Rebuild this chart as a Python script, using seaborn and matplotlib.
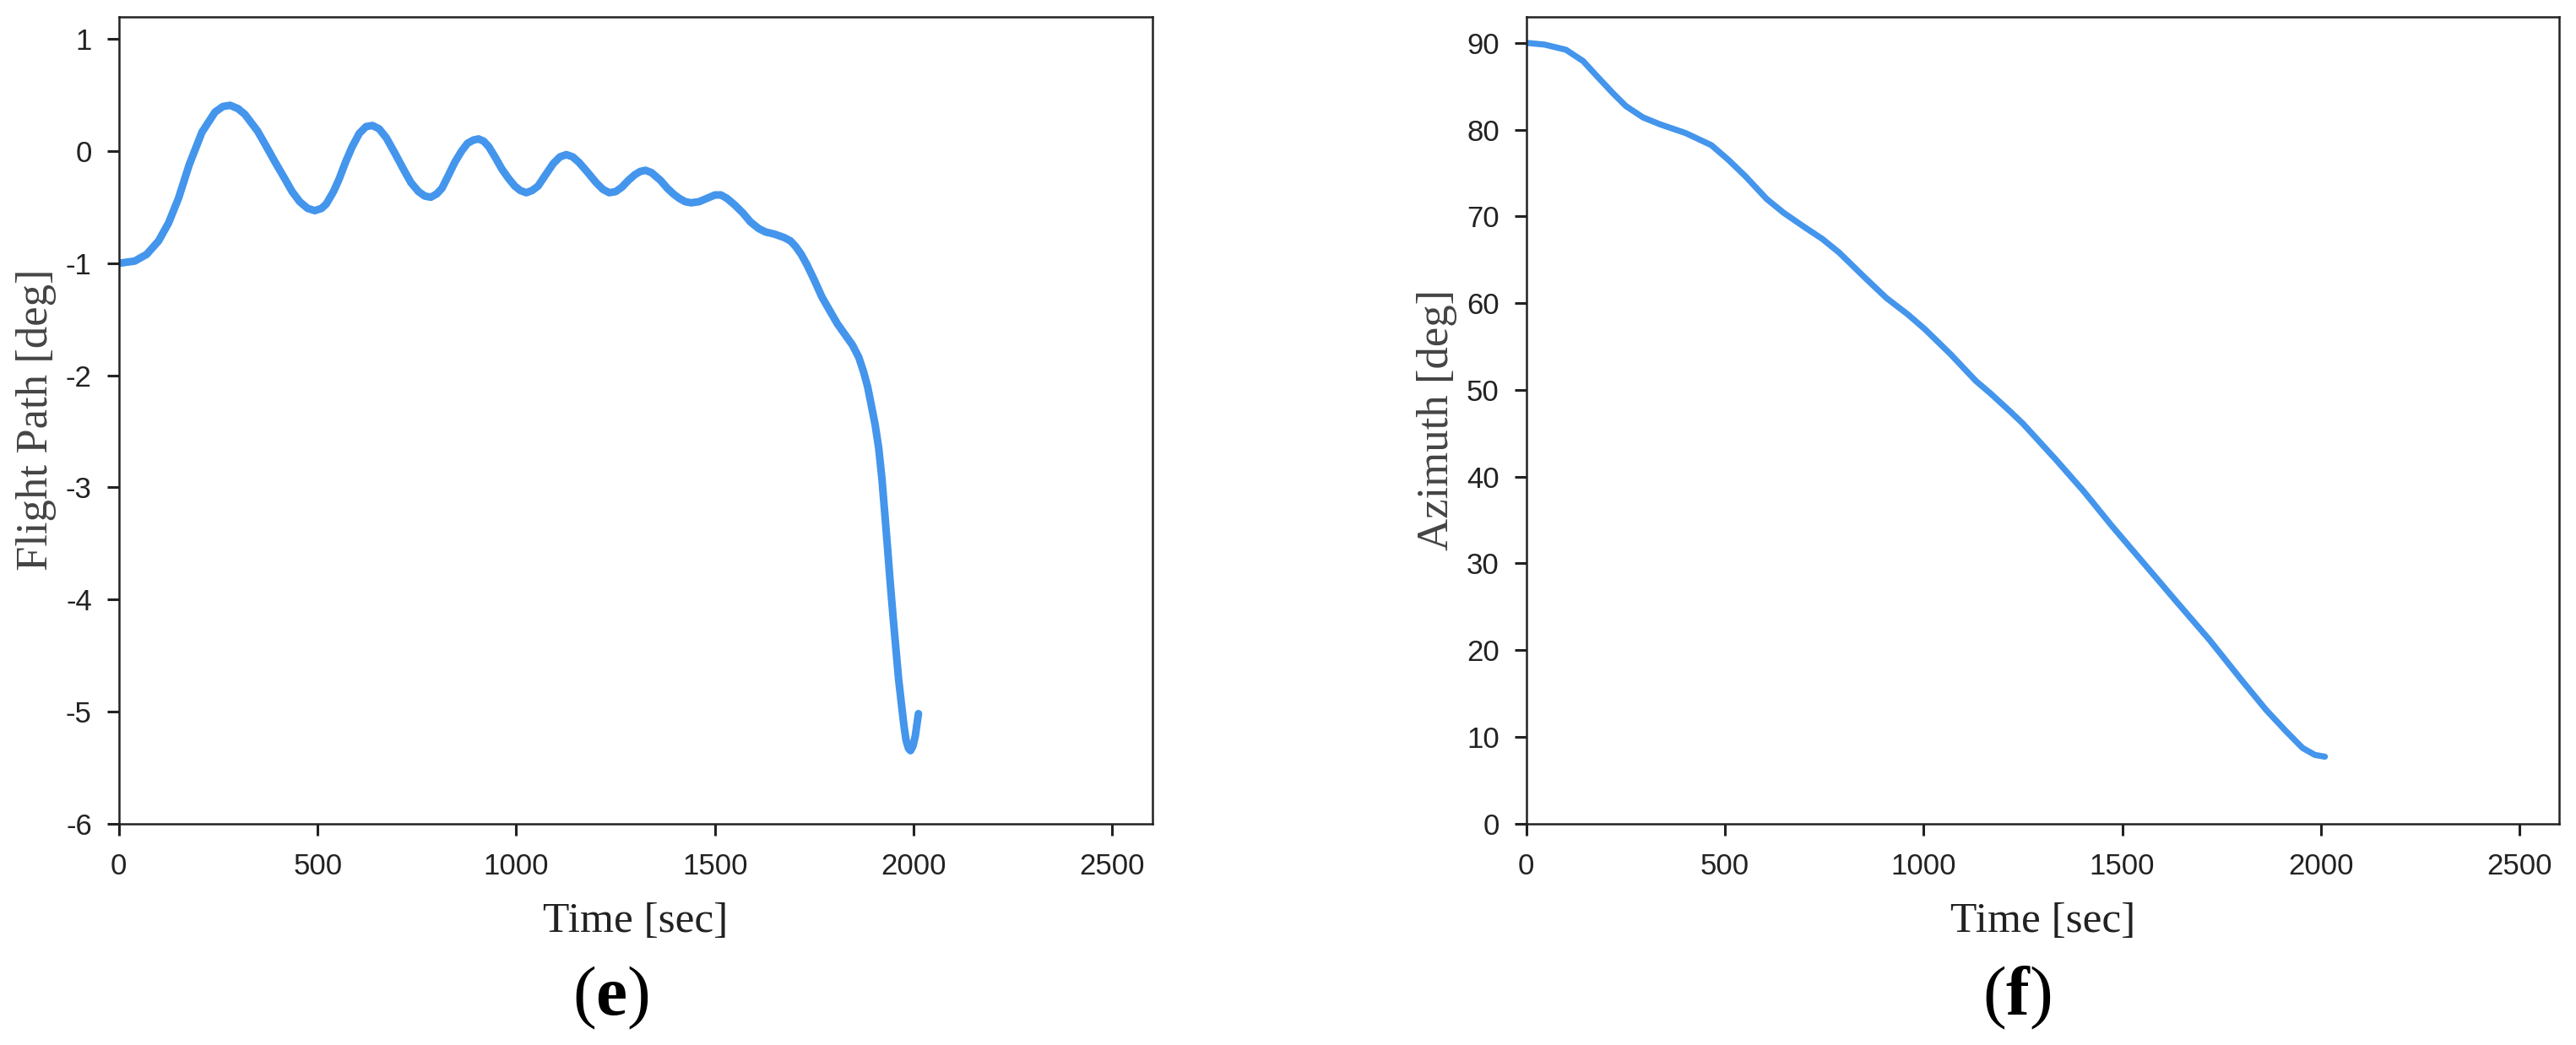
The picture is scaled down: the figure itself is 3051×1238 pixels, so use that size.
import matplotlib
matplotlib.use("Agg")
import matplotlib.pyplot as plt
import seaborn as sns
import pandas as pd

# ---- data ----
time_e = [0, 40, 70, 100, 125, 150, 177, 209, 242, 262, 280, 300, 317, 349, 370, 392, 415, 436,
          455, 475, 493, 510, 522, 540, 554, 570, 587, 605, 622, 638, 655, 673, 695, 716, 735,
          754, 770, 785, 800, 813, 830, 845, 862, 877, 892, 905, 918, 931, 948, 964, 980, 996,
          1010, 1025, 1040, 1055, 1070, 1093, 1110, 1126, 1142, 1158, 1180, 1201, 1218, 1234,
          1250, 1266, 1282, 1298, 1312, 1325, 1340, 1363, 1380, 1395, 1410, 1425, 1440, 1460,
          1480, 1500, 1515, 1530, 1550, 1570, 1589, 1610, 1627, 1650, 1674, 1690, 1703, 1717,
          1731, 1750, 1769, 1790, 1808, 1828, 1846, 1862, 1874, 1884, 1893, 1903, 1912, 1920,
          1927, 1934, 1941, 1948, 1955, 1962, 1970, 1976, 1981, 1987, 1992, 1998, 2004, 2008, 2012]
flight_path = [-1.00, -0.98, -0.92, -0.80, -0.64, -0.42, -0.12, 0.17, 0.35, 0.40, 0.41, 0.38, 0.33,
               0.18, 0.05, -0.09, -0.23, -0.36, -0.45, -0.51, -0.53, -0.51, -0.47, -0.36, -0.25,
               -0.10, 0.04, 0.16, 0.22, 0.23, 0.20, 0.12, -0.02, -0.16, -0.28, -0.36, -0.40, -0.41,
               -0.38, -0.33, -0.21, -0.10, 0.00, 0.07, 0.10, 0.11, 0.09, 0.04, -0.06, -0.16, -0.24,
               -0.31, -0.35, -0.37, -0.35, -0.31, -0.23, -0.11, -0.05, -0.03, -0.05, -0.10, -0.19,
               -0.28, -0.34, -0.37, -0.36, -0.32, -0.26, -0.21, -0.18, -0.17, -0.19, -0.26, -0.33,
               -0.38, -0.42, -0.45, -0.46, -0.45, -0.42, -0.39, -0.39, -0.42, -0.48, -0.55, -0.63,
               -0.69, -0.72, -0.74, -0.77, -0.80, -0.85, -0.92, -1.01, -1.15, -1.30, -1.43, -1.54,
               -1.64, -1.73, -1.84, -1.97, -2.10, -2.26, -2.44, -2.65, -2.92, -3.22, -3.53, -3.85,
               -4.15, -4.43, -4.71, -4.96, -5.14, -5.26, -5.33, -5.35, -5.31, -5.22, -5.12, -5.02]

time_f = [0, 46, 100, 143, 175, 218, 251, 294, 337, 401, 466, 509, 552, 605, 648, 702, 745, 788,
          853, 906, 960, 1003, 1068, 1132, 1168, 1218, 1250, 1332, 1403, 1474, 1556, 1638, 1719,
          1801, 1862, 1913, 1954, 1985, 2010]
azimuth = [90.0, 89.8, 89.2, 87.9, 86.3, 84.2, 82.7, 81.4, 80.6, 79.6, 78.2, 76.5, 74.6, 72.0, 70.4,
           68.7, 67.4, 65.8, 62.9, 60.6, 58.7, 57.0, 54.1, 51.0, 49.6, 47.5, 46.1, 42.0, 38.3, 34.3,
           29.9, 25.5, 21.2, 16.5, 13.1, 10.6, 8.7, 7.9, 7.7]

x_ticks = [0, 500, 1000, 1500, 2000, 2500]
e_yticks = [-6, -5, -4, -3, -2, -1, 0, 1]
f_yticks = [0, 10, 20, 30, 40, 50, 60, 70, 80, 90]
x_label = "Time [sec]"
e_ylabel = "Flight Path [deg]"
f_ylabel = "Azimuth [deg]"
panel_labels = ["e", "f"]

# ---- style ----
sns.set_theme(style="ticks")
plt.rcParams["font.family"] = ["Liberation Sans", "DejaVu Sans"]
plt.rcParams["axes.unicode_minus"] = False
plt.rcParams["mathtext.fontset"] = "custom"
plt.rcParams["mathtext.rm"] = "Liberation Serif"
plt.rcParams["mathtext.bf"] = "Liberation Serif:bold"

LINE = "#4495EC"
DARK = "#222222"
SERIF = ["Liberation Serif", "DejaVu Serif"]

fig = plt.figure(figsize=(30.51, 12.38), dpi=100)
ax1 = fig.add_axes([0.04615, 0.2120, 0.4011, 0.7719])
ax2 = fig.add_axes([0.5925, 0.2120, 0.4010, 0.7719])

df_e = pd.DataFrame({"t": time_e, "v": flight_path})
df_f = pd.DataFrame({"t": time_f, "v": azimuth})
sns.lineplot(data=df_e, x="t", y="v", ax=ax1, color=LINE, linewidth=6.5, sort=False)
sns.lineplot(data=df_f, x="t", y="v", ax=ax2, color=LINE, linewidth=5.2, sort=False)

for ax, yt, ylim, ylab in [(ax1, e_yticks, (-6, 1.2), e_ylabel), (ax2, f_yticks, (0, 93), f_ylabel)]:
    ax.set_xlim(0, 2600)
    ax.set_ylim(*ylim)
    ax.set_xticks(x_ticks)
    ax.set_xticklabels([str(v) for v in x_ticks])
    ax.set_yticks(yt)
    ax.set_yticklabels([str(v) for v in yt])
    for s in ax.spines.values():
        s.set_visible(True)
        s.set_color(DARK)
        s.set_linewidth(1.8)
    ax.tick_params(axis="both", direction="out", length=10, width=2.2, color=DARK,
                   labelsize=25, labelcolor=DARK)
    ax.tick_params(axis="x", pad=15)
    ax.tick_params(axis="y", pad=13)
    ax.set_xlabel(x_label, fontsize=37, family=SERIF, color=DARK, labelpad=18)
    ax.set_ylabel(ylab, fontsize=38, family=SERIF, color="#444444", labelpad=8)
    ax.grid(False)

fig.text(0.237, 0.045, "(" + r"$\mathbf{" + panel_labels[0] + "}$" + ")", ha="center", va="center",
         fontsize=60, family=SERIF, color="black")
fig.text(0.783, 0.045, "(" + r"$\mathbf{" + panel_labels[1] + "}$" + ")", ha="center", va="center",
         fontsize=60, family=SERIF, color="black")

fig.savefig("out.png", dpi=100, facecolor="white")
